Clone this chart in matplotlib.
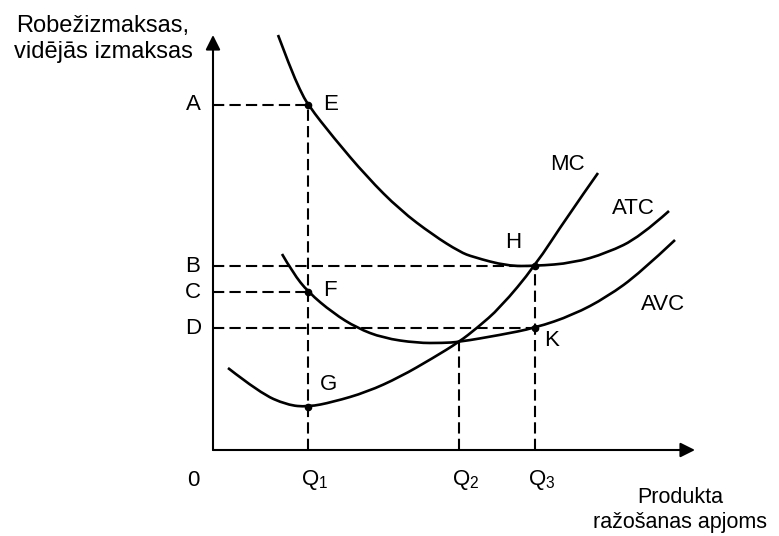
import matplotlib
matplotlib.use("Agg")
import matplotlib.pyplot as plt
from matplotlib.path import Path
from matplotlib.patches import PathPatch

plt.rcParams['font.family'] = ['Liberation Sans', 'DejaVu Sans']
plt.rcParams['mathtext.fontset'] = 'custom'
plt.rcParams['mathtext.rm'] = 'Liberation Sans'
plt.rcParams['mathtext.it'] = 'Liberation Sans'

# ---- data (quantity, cost) ----
atc_q = [65, 77, 87, 95, 120, 154, 187, 220, 247, 260, 294, 322, 360, 394, 427, 456]
atc_c = [415, 383, 360, 345, 313, 273, 240, 215, 198, 193, 184, 184, 187, 197, 213, 239]

mc_q = [15, 47, 74, 95, 120, 154, 187, 220, 246, 264, 287, 322, 354, 385]
mc_c = [82, 57, 45, 43, 48, 58, 73, 92, 108, 122, 142, 184, 233, 277]

avc_q = [69, 80, 95, 120, 144, 170, 204, 230, 246, 287, 322, 360, 394, 427, 462]
avc_c = [196, 177, 158, 137, 122, 112, 107, 107, 108, 115, 122, 135, 153, 177, 210]

# price levels and quantities
level_names = ['A', 'B', 'C', 'D']
level_vals = [345, 184, 158, 122]
level_ends = [95, 322, 95, 322]

q_names = ['Q$_1$', 'Q$_2$', 'Q$_3$']
q_vals = [95, 246, 322]
q_tops = [345, 108, 184]

pt_names = ['E', 'F', 'G', 'H', 'K']
pt_q = [95, 95, 95, 322, 322]
pt_c = [345, 158, 43, 184, 122]


def smooth_path(xs, ys):
    """Quadratic-Bezier path through the read points (rendered by matplotlib)."""
    n = len(xs)
    verts = [(xs[0], ys[0])]
    codes = [Path.MOVETO]
    for i in range(1, n - 1):
        if i == n - 2:
            end = (xs[n - 1], ys[n - 1])
        else:
            end = ((xs[i] + xs[i + 1]) / 2, (ys[i] + ys[i + 1]) / 2)
        verts += [(xs[i], ys[i]), end]
        codes += [Path.CURVE3, Path.CURVE3]
    return Path(verts, codes)


fig = plt.figure(figsize=(7.79, 5.36), dpi=100)
ax = fig.add_axes([0, 0, 1, 1])
ax.set_xlim(-213, 566)
ax.set_ylim(-86, 450)
ax.axis('off')

# axes with arrows
ax.annotate('', xy=(0, 415), xytext=(0, 0),
            arrowprops=dict(arrowstyle='-|>', lw=1.5, color='black',
                            mutation_scale=22, shrinkA=0, shrinkB=0))
ax.annotate('', xy=(482, 0), xytext=(0, 0),
            arrowprops=dict(arrowstyle='-|>', lw=1.5, color='black',
                            mutation_scale=22, shrinkA=0, shrinkB=0))

dash = (5.4, 2.5)
for v, e in zip(level_vals, level_ends):
    ax.plot([0, e], [v, v], color='black', lw=1.5, dashes=dash)
for q, t in zip(q_vals, q_tops):
    ax.plot([q, q], [0, t], color='black', lw=1.5, dashes=dash)

for xs, ys in [(atc_q, atc_c), (mc_q, mc_c), (avc_q, avc_c)]:
    ax.add_patch(PathPatch(smooth_path(xs, ys), fill=False, edgecolor='black',
                           lw=1.9, capstyle='butt', joinstyle='round'))

ax.plot(pt_q, pt_c, 'o', color='black', ms=4.5)

fs = 16
for n, v in zip(level_names, level_vals):
    ax.text(-20, v, n, ha='center', va='center', fontsize=fs)

ax.text(-20, -30, '0', ha='center', va='center', fontsize=fs)
for n, q in zip(q_names, q_vals):
    ax.text(q + 7, -30, n, ha='center', va='center', fontsize=fs)

# point labels
lab_pos = {'E': (110, 346), 'F': (110, 159), 'G': (107, 66),
           'H': (292, 207), 'K': (331, 110)}
for n in pt_names:
    x, y = lab_pos[n]
    ax.text(x, y, n, ha='left', va='center', fontsize=fs)

ax.text(354, 286, 'MC', ha='center', va='center', fontsize=fs)
ax.text(420, 242, 'ATC', ha='center', va='center', fontsize=fs)
ax.text(450, 145, 'AVC', ha='center', va='center', fontsize=fs)

ax.text(-110, 411, 'Robežizmaksas,\nvidējās izmaksas', ha='center',
        va='center', fontsize=17, linespacing=1.2)
ax.text(467, -60, 'Produkta\nražošanas apjoms', ha='center',
        va='center', fontsize=15.5, linespacing=1.25)

fig.savefig('out.png', dpi=100)
